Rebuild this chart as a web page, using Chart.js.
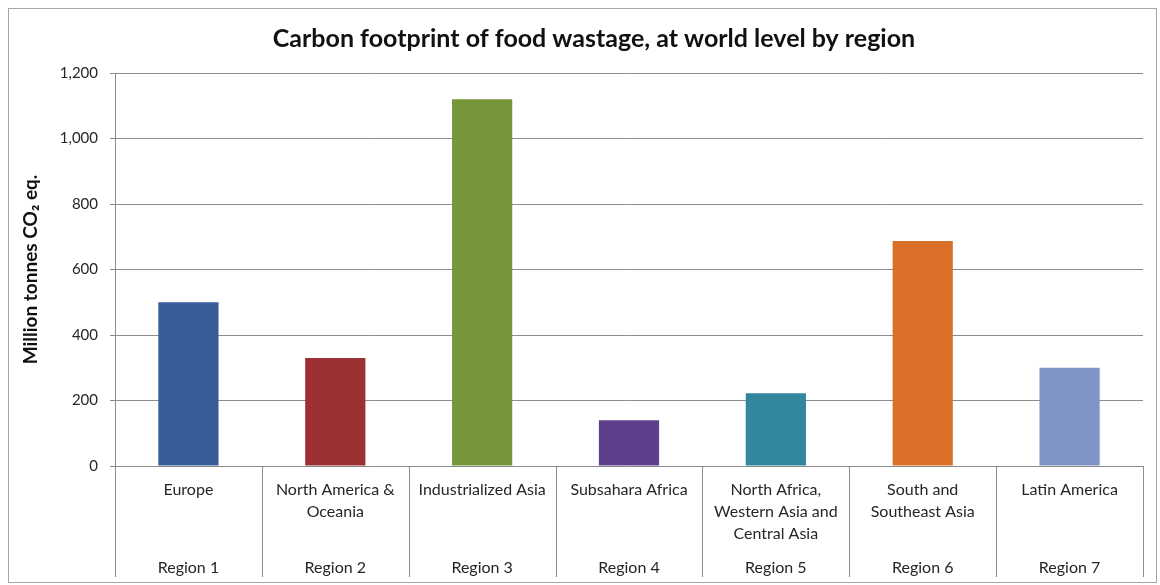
<!DOCTYPE html>
<html>
<head>
<meta charset="utf-8">
<script src="https://cdn.jsdelivr.net/npm/chart.js@4.4.1/dist/chart.umd.min.js"></script>
<style>
    html, body { margin: 0; padding: 0; background: #fff; }
    #frame {
        position: absolute; left: 8px; top: 8px;
        width: 1147px; height: 573px;
        border: 1px solid #a6a6a6;
    }
    #chart { display: block; }
</style>
</head>
<body>
<div id="frame"><canvas id="chart" width="1147" height="573"></canvas></div>
<script>
// Chart data
const regionNames = [
    "Europe",
    ["North America &", "Oceania"],
    "Industrialized Asia",
    "Subsahara Africa",
    ["North Africa,", "Western Asia and", "Central Asia"],
    ["South and", "Southeast Asia"],
    "Latin America"
];
const regionNumbers = ["Region 1", "Region 2", "Region 3", "Region 4", "Region 5", "Region 6", "Region 7"];
const co2Values = [500, 330, 1120, 140, 222, 687, 300];
const barColors = ["#375d9b", "#9b2f31", "#77963a", "#5d3f8b", "#32879f", "#db7028", "#7f95c6"];
const yMax = 1200;
const yStep = 200;

const fontFamily = "Lato, 'DejaVu Sans', sans-serif";
const gridColor = "#8c8c8c";
const textColor = "#262626";

// Vertical separators for the two-level category axis
const categorySeparators = {
    id: "categorySeparators",
    afterDraw(chart) {
        const xScale = chart.scales.x;
        const bottom = chart.scales.x2.bottom;
        const n = regionNames.length;
        const step = xScale.width / n;
        const ctx = chart.ctx;
        ctx.save();
        ctx.strokeStyle = gridColor;
        ctx.lineWidth = 1;
        for (let i = 0; i <= n; i++) {
            const x = Math.round(xScale.left + i * step) + 0.5;
            ctx.beginPath();
            ctx.moveTo(x, xScale.top);
            ctx.lineTo(x, bottom);
            ctx.stroke();
        }
        ctx.restore();
    }
};

const ctx = document.getElementById("chart");
new Chart(ctx, {
    type: "bar",
    data: {
        labels: regionNames,
        datasets: [{
            data: co2Values,
            backgroundColor: barColors,
            borderWidth: 0,
            categoryPercentage: 1,
            barPercentage: 0.41
        }]
    },
    options: {
        responsive: false,
        animation: false,
        // left padding shifts the centred title to the right, like the original
        layout: {padding: {left: 36, right: 13, top: 0, bottom: 5}},
        plugins: {
            legend: {display: false},
            tooltip: {enabled: false},
            title: {
                display: true,
                text: "Carbon footprint of food wastage, at world level by region",
                color: "#111",
                font: {family: fontFamily, size: 25, weight: "bold"},
                padding: {top: 15, bottom: 19}
            }
        },
        scales: {
            y: {
                min: 0,
                max: yMax,
                ticks: {
                    stepSize: yStep,
                    color: textColor,
                    padding: 12,
                    font: {family: fontFamily, size: 15},
                    callback: v => v.toLocaleString("en-US")
                },
                grid: {color: gridColor, tickLength: 5, drawTicks: true},
                border: {display: true, color: gridColor},
                title: {
                    display: true,
                    text: "Million tonnes CO₂ eq.",
                    color: "#111",
                    font: {family: fontFamily, size: 19, weight: "bold"},
                    padding: {top: -26, bottom: 0}
                },
                afterFit: scale => { scale.width = 70; }
            },
            x: {
                position: "bottom",
                grid: {display: false, drawTicks: false},
                border: {display: false},
                ticks: {
                    color: textColor,
                    padding: 13,
                    maxRotation: 0,
                    autoSkip: false,
                    font: {family: fontFamily, size: 16, lineHeight: 1.375}
                },
                afterFit: scale => { scale.height = 80; }
            },
            x2: {
                type: "category",
                position: "bottom",
                labels: regionNumbers,
                offset: true,
                grid: {display: false, drawTicks: false},
                border: {display: false},
                ticks: {
                    color: textColor,
                    padding: 12,
                    maxRotation: 0,
                    autoSkip: false,
                    font: {family: fontFamily, size: 16}
                },
                afterFit: scale => { scale.height = 31; }
            }
        }
    },
    plugins: [categorySeparators]
});
</script>
</body>
</html>
